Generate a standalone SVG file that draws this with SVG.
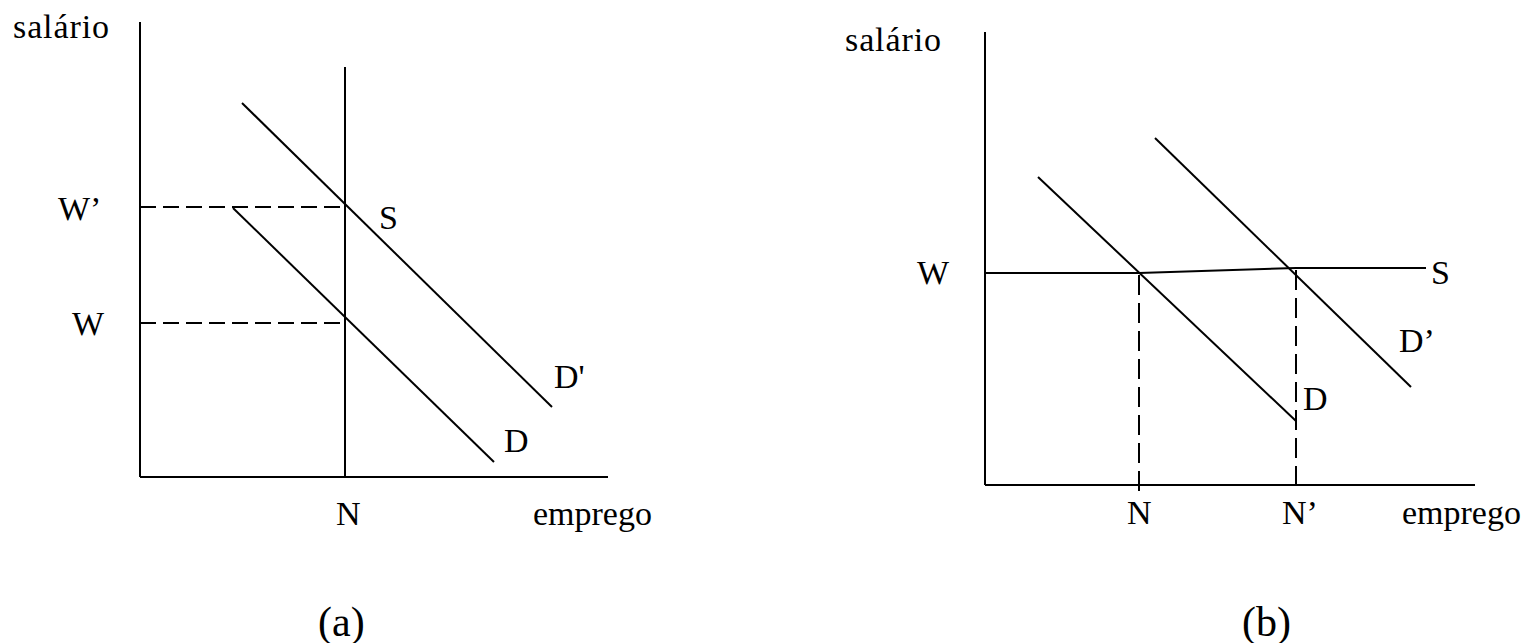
<svg xmlns="http://www.w3.org/2000/svg" width="1525" height="643" viewBox="0 0 1525 643">
<style>
.ln{stroke:#000;stroke-width:2;fill:none}
.ds{stroke:#000;stroke-width:2;fill:none;stroke-dasharray:16 7}
.dv{stroke:#000;stroke-width:2;fill:none;stroke-dasharray:20 8}
text{font-family:"Liberation Serif","Times New Roman",serif;font-size:34px;fill:#000}
.cap{font-size:42px}
</style>
<rect width="1525" height="643" fill="#fff"/>
<g id="chart-a">
  <g id="axes-a">
    <line class="ln" x1="140" y1="22" x2="140" y2="477"/>
    <line class="ln" x1="140" y1="477" x2="608" y2="477"/>
  </g>
  <g id="connectors-a">
    <line id="S-a" class="ln" x1="345" y1="67" x2="345" y2="477"/>
    <line id="Dp-a" class="ln" x1="242" y1="103" x2="552" y2="407"/>
    <line id="D-a" class="ln" x1="233" y1="208" x2="494" y2="462"/>
    <line class="ds" x1="140" y1="207" x2="345" y2="207"/>
    <line class="ds" x1="140" y1="323" x2="345" y2="323"/>
  </g>
  <text x="13" y="38" textLength="96" lengthAdjust="spacing">salário</text>
  <text x="58" y="220">W’</text>
  <text x="72" y="335">W</text>
  <text x="379" y="229">S</text>
  <text x="554" y="388">D'</text>
  <text x="504" y="452">D</text>
  <text x="336" y="525">N</text>
  <text x="533" y="525">emprego</text>
  <text class="cap" x="318" y="636">(a)</text>
</g>
<g id="chart-b">
  <g id="axes-b">
    <line class="ln" x1="985" y1="32" x2="985" y2="485"/>
    <line class="ln" x1="985" y1="485" x2="1475" y2="485"/>
  </g>
  <g id="connectors-b">
    <polyline id="S-b" class="ln" points="985,273 1139,273 1296,268 1426,268"/>
    <line id="D-b" class="ln" x1="1038" y1="177" x2="1296" y2="421"/>
    <line id="Dp-b" class="ln" x1="1155" y1="138" x2="1411" y2="387"/>
    <line class="dv" x1="1139" y1="275" x2="1139" y2="492"/>
    <line class="dv" x1="1296" y1="270" x2="1296" y2="485"/>
  </g>
  <text x="845" y="51" textLength="96" lengthAdjust="spacing">salário</text>
  <text x="917" y="284">W</text>
  <text x="1431" y="284">S</text>
  <text x="1399" y="352">D’</text>
  <text x="1303" y="410">D</text>
  <text x="1127" y="524">N</text>
  <text x="1282" y="524">N’</text>
  <text x="1402" y="524">emprego</text>
  <text class="cap" x="1242" y="636">(b)</text>
</g>
</svg>
